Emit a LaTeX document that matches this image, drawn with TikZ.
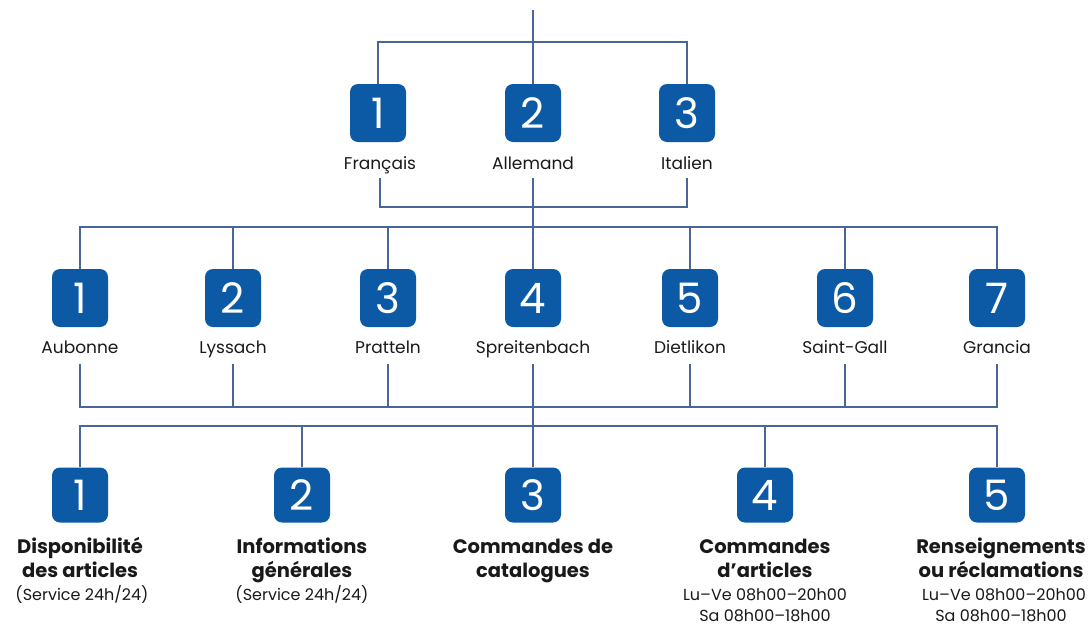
\documentclass[tikz,border=0pt]{standalone}
\usepackage{fontspec}
\setmainfont{Poppins}
\definecolor{boxblue}{RGB}{12,90,165}
\definecolor{linecol}{RGB}{72,102,150}
\definecolor{txt}{RGB}{25,25,25}
\begin{document}
\begin{tikzpicture}[x=1pt,y=-1pt,
 num/.style={fill=boxblue, rounded corners=8pt, minimum width=56pt, minimum height=58pt, inner sep=0pt, text=white, font=\fontsize{42}{42}\selectfont},
 lab/.style={anchor=base, inner sep=0pt, text=txt, font=\fontsize{17}{17}\selectfont},
 slab/.style={anchor=base, inner sep=0pt, text=txt, font=\fontsize{16}{16}\selectfont},
 blab/.style={anchor=base, inner sep=0pt, text=txt, font=\bfseries\fontsize{19.5}{19.5}\selectfont},
 conn/.style={draw=linecol, line width=2.4pt}]
\useasboundingbox (0,0) rectangle (1091,627);
% level 1
\node[num] (a1) at (378,113) {1};
\node[num] (a2) at (533,113) {2};
\node[num] (a3) at (687,113) {3};
\node[lab] (la1) at (380,169) {Français};
\node[lab] (la2) at (533,169) {Allemand};
\node[lab] (la3) at (687,169) {Italien};
% level 2
\foreach \i/\x/\t in {1/80/Aubonne,2/233/Lyssach,3/388/Pratteln,4/533/Spreitenbach,5/690/Dietlikon,6/845/Saint-Gall,7/997/Grancia}{
  \node[num] (b\i) at (\x,298) {\i};
  \node[lab] (lb\i) at (\x,353) {\t};
}
% level 3
\foreach \i/\x in {1/80,2/302,3/533,4/765,5/997}{
  \node[num, minimum height=55pt] (c\i) at (\x,495) {\i};
}
\node[blab] (d1a) at (80,553) {Disponibilité};
\node[blab] (d1b) at (80,577) {des articles};
\node[slab] (d1c) at (82,600) {(Service 24h/24)};
\node[blab] (d2a) at (302,553) {Informations};
\node[blab] (d2b) at (302,577) {générales};
\node[slab] (d2c) at (302,600) {(Service 24h/24)};
\node[blab] (d3a) at (533,553) {Commandes de};
\node[blab] (d3b) at (533,577) {catalogues};
\node[blab] (d4a) at (765,553) {Commandes};
\node[blab] (d4b) at (765,577) {d’articles};
\node[slab] (d4c) at (765,600) {Lu–Ve 08h00–20h00};
\node[slab] (d4d) at (765,621) {Sa 08h00–18h00};
\node[blab] (d5a) at (1001,553) {Renseignements};
\node[blab] (d5b) at (1001,577) {ou réclamations};
\node[slab] (d5c) at (1004,600) {Lu–Ve 08h00–20h00};
\node[slab] (d5d) at (1001,621) {Sa 08h00–18h00};
% bracket levels
\coordinate (top) at (533,10);
\coordinate (y1) at (0,42);
\coordinate (y2) at (0,178);
\coordinate (y3) at (0,207);
\coordinate (y4) at (0,227);
\coordinate (y5) at (0,364);
\coordinate (y6) at (0,407);
\coordinate (y7) at (0,426);
% connectors level 0 -> 1
\draw[conn] (top) -- (a2.north);
\draw[conn] (a1.north) -- (a1.north |- y1) -- (a3.north |- y1) -- (a3.north);
% level 1 -> 2
\draw[conn] (la1 |- y2) -- (la1 |- y3) -- (a3 |- y3) -- (a3 |- y2);
\draw[conn] (a2 |- y2) -- (b4.north);
\draw[conn] (b1.north) -- (b1 |- y4) -- (b7 |- y4) -- (b7.north);
\foreach \i in {2,3,5,6}{\draw[conn] (b\i |- y4) -- (b\i.north);}
% level 2 -> 3
\draw[conn] (b1 |- y5) -- (b1 |- y6) -- (b7 |- y6) -- (b7 |- y5);
\foreach \i in {2,3,5,6}{\draw[conn] (b\i |- y5) -- (b\i |- y6);}
\draw[conn] (b4 |- y5) -- (c3.north);
\draw[conn] (c1.north) -- (c1 |- y7) -- (c5 |- y7) -- (c5.north);
\foreach \i in {2,4}{\draw[conn] (c\i |- y7) -- (c\i.north);}
\end{tikzpicture}
\end{document}
